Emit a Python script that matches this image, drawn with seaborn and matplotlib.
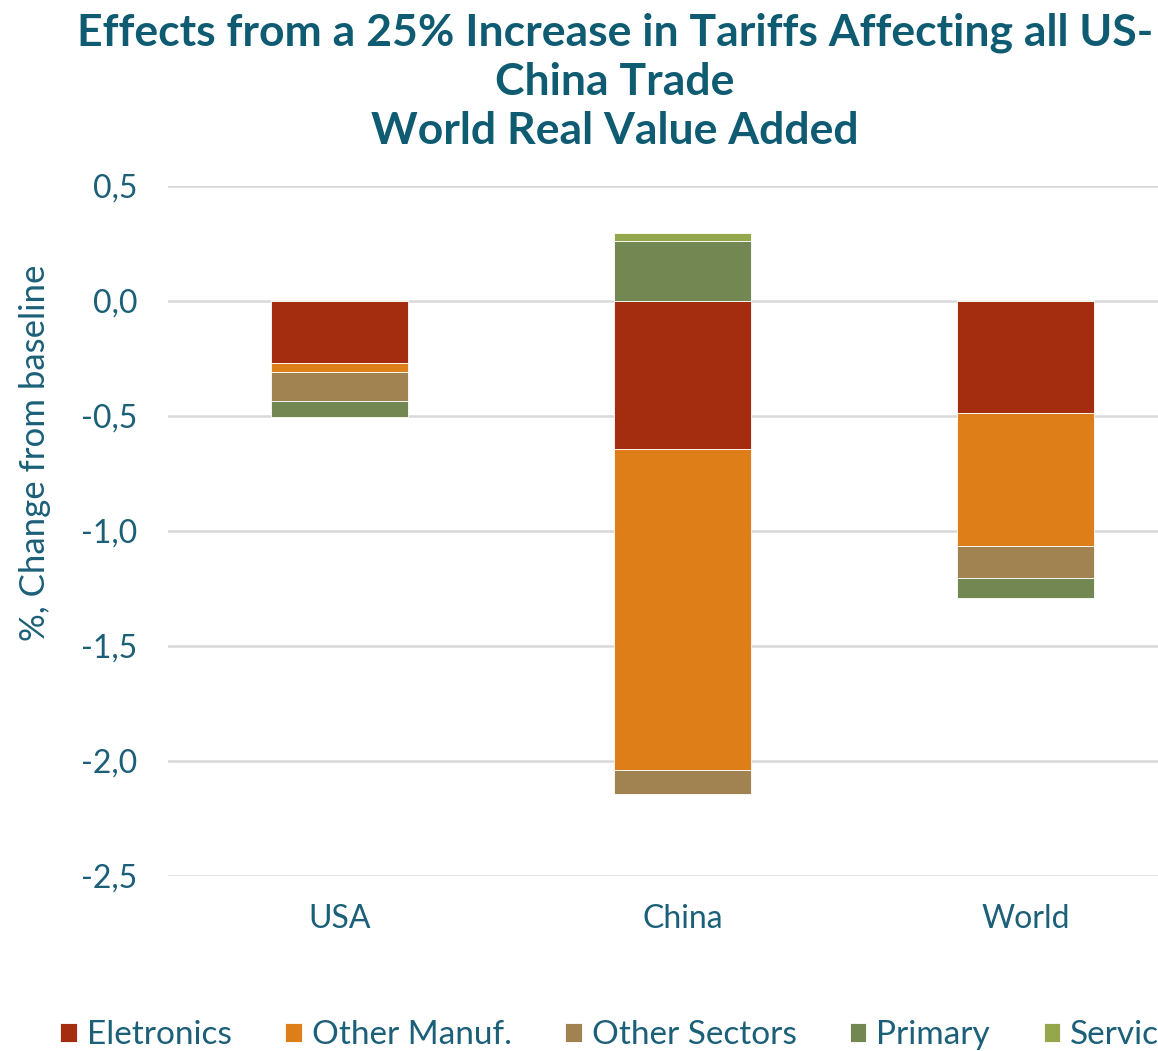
import matplotlib
matplotlib.use("Agg")
import matplotlib.pyplot as plt
import numpy as np
import seaborn as sns

regions = ["USA", "China", "World"]
sectors = ["Eletronics", "Other Manuf.", "Other Sectors", "Primary", "Services"]
eletronics = [-0.268, -0.642, -0.489]
other_manuf = [-0.041, -1.397, -0.578]
other_sectors = [-0.125, -0.106, -0.138]
primary = [-0.072, 0.259, -0.086]
services = [0.005, 0.037, 0.004]
sector_colors = ["#A42D10", "#DE7E19", "#A08350", "#738752", "#94A84B"]
y_ticks = [0.5, 0.0, -0.5, -1.0, -1.5, -2.0, -2.5]

text_color = "#1B5F78"
title_color = "#0E5B72"

sns.set_theme(style="white")
plt.rcParams["font.family"] = ["Lato", "DejaVu Sans"]

fig = plt.figure(figsize=(11.58, 10.51), dpi=100)
W, H = 1158, 1051
left, right, top, bottom = 168, 1197, 186, 876
ax = fig.add_axes([left / W, 1 - bottom / H, (right - left) / W, (bottom - top) / H])

# stack positive and negative contributions separately
series = [eletronics, other_manuf, other_sectors, primary, services]
pos_base = np.zeros(len(regions))
neg_base = np.zeros(len(regions))
for name, vals, col in zip(sectors, series, sector_colors):
    vals = np.asarray(vals, dtype=float)
    base = np.where(vals >= 0, pos_base, neg_base)
    sns.barplot(x=regions, y=vals, bottom=base, order=regions, color=col,
                width=0.4, errorbar=None, saturation=1, label=name,
                edgecolor="white", linewidth=0.6, ax=ax, zorder=3)
    pos_base = pos_base + np.clip(vals, 0, None)
    neg_base = neg_base + np.clip(vals, None, 0)

handles, labels = ax.get_legend_handles_labels()
if ax.get_legend() is not None:
    ax.get_legend().remove()

ax.set_ylim(-2.5, 0.5)
ax.set_xlim(-0.5, 2.5)
ax.set_yticks(y_ticks)
ax.set_yticklabels([f"{t:.1f}".replace(".", ",") for t in y_ticks])
ax.grid(axis="y", color="#D9D9D9", linewidth=1.8, zorder=0)
ax.grid(axis="x", visible=False)
for s in ax.spines.values():
    s.set_visible(False)
ax.tick_params(axis="y", length=0, pad=22, labelsize=23, labelcolor=text_color)
ax.tick_params(axis="x", length=0, pad=20, labelsize=23, labelcolor=text_color)
ax.set_xlabel("")
ax.set_ylabel("")

fig.text(35 / W, 1 - 453 / H, "%, Change from baseline", rotation=90,
         ha="center", va="center", fontsize=25, color=text_color)

fig.text(615 / W, 1 - 82 / H,
         "Effects from a 25% Increase in Tariffs Affecting all US-\nChina Trade\nWorld Real Value Added",
         ha="center", va="center", fontsize=32, fontweight="bold",
         color=title_color, linespacing=1.28)

fig.legend(handles, labels, loc="center left", bbox_to_anchor=(60 / W, 1 - 1035 / H),
           ncol=5, frameon=False, fontsize=24, labelcolor=text_color,
           handlelength=0.5, handleheight=0.5, handletextpad=0.3,
           columnspacing=1.6, borderaxespad=0, borderpad=0)

fig.savefig("out.png", dpi=100)
